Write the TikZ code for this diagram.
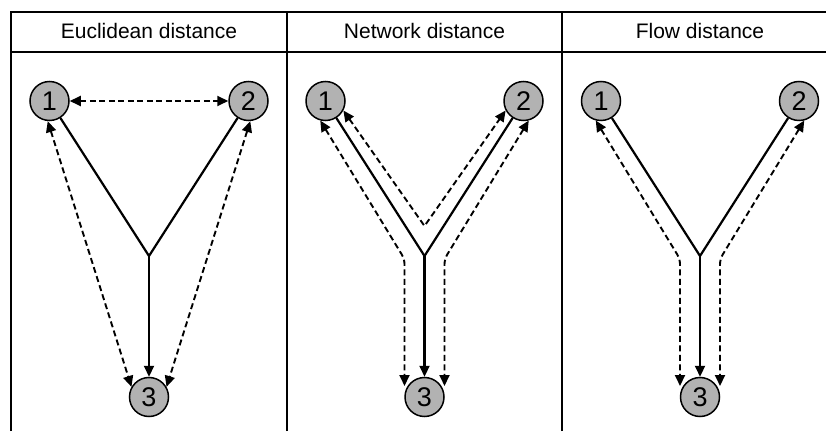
\documentclass[tikz,border=0pt]{standalone}
\usepackage{fontspec}
\setmainfont{Liberation Sans}
\usetikzlibrary{arrows.meta}
\usetikzlibrary{calc}
\begin{document}
\begin{tikzpicture}[x=1pt,y=1pt,>={Triangle[length=11pt,width=10pt]}]
\tikzstyle{city}=[circle,draw,fill=black!30,line width=1.5pt,minimum size=39pt,inner sep=0pt,font=\fontsize{27}{27}\selectfont]
\tikzstyle{title}=[font=\fontsize{21}{24}\selectfont]
\tikzstyle{frame}=[line width=2.4pt]
\tikzstyle{river}=[line width=2.2pt]
\tikzstyle{dist}=[line width=1.9pt,dash pattern=on 6pt off 3.5pt]
\useasboundingbox (0,0) rectangle (826,431);
\draw [frame] (11,0) -- (11,419) -- (826,419);
\draw [frame] (11,379) -- (826,379);
\draw [frame] (287,0) -- (287,419);
\draw [frame] (562,0) -- (562,419);
\node [title] (head1) at (149,400) {Euclidean distance};
\node [title] (head2) at (424.5,400) {Network distance};
\node [title] (head3) at (700,400) {Flow distance};
\node [city] (a1) at (49.5,330) {1};
\node [city] (a2) at (248.5,330) {2};
\node [city] (a3) at (149,34) {3};
\coordinate (aj) at (149,175);
\draw [river] (a1) -- (aj);
\draw [river] (a2) -- (aj);
\draw [river, ->] (aj) -- (a3);
\draw [dist, <->] (a1) -- (a2);
\draw [dist, <->] (a1.-95) -- (a3.150);
\draw [dist, <->] (a2.-85) -- (a3.30);
\node [city] (b1) at (325.5,330) {1};
\node [city] (b2) at (523.5,330) {2};
\node [city] (b3) at (424.5,34) {3};
\coordinate (bj) at (424.5,175);
\coordinate (bv) at (424.5,205);
\coordinate (bl) at (404.5,172);
\coordinate (br) at (444.5,172);
\draw [river] (b1) -- (bj);
\draw [river] (b2) -- (bj);
\draw [river, ->] (bj) -- (b3);
\draw [dist, <->] (b1.-28) -- (bv) -- (b2.-152);
\draw [dist, <->, rounded corners=5pt] (b1.-105) -- (bl) -- ($(b3)+(-20,11)$);
\draw [dist, <->, rounded corners=5pt] (b2.-75) -- (br) -- ($(b3)+(20,11)$);
\node [city] (c1) at (601,330) {1};
\node [city] (c2) at (799,330) {2};
\node [city] (c3) at (700,34) {3};
\coordinate (cj) at (700,175);
\coordinate (cl) at (680,172);
\coordinate (cr) at (720,172);
\draw [river] (c1) -- (cj);
\draw [river] (c2) -- (cj);
\draw [river, ->] (cj) -- (c3);
\draw [dist, <->, rounded corners=5pt] (c1.-105) -- (cl) -- ($(c3)+(-20,11)$);
\draw [dist, <->, rounded corners=5pt] (c2.-75) -- (cr) -- ($(c3)+(20,11)$);
\end{tikzpicture}
\end{document}
